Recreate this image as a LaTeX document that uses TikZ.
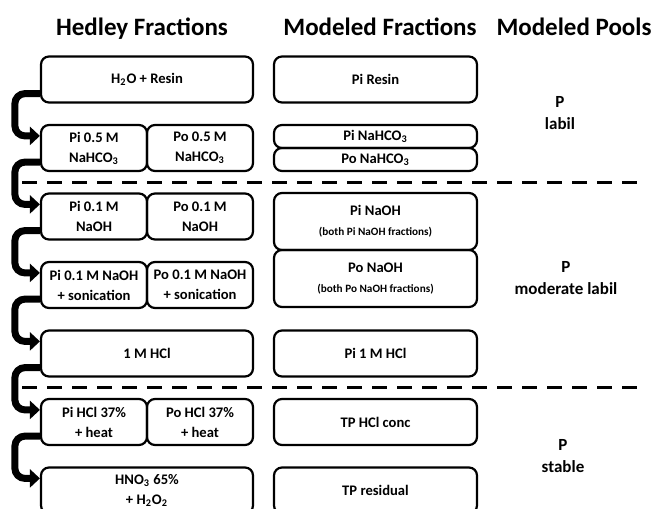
\documentclass[tikz,border=0pt]{standalone}
\usepackage{fontspec}
\setmainfont{Carlito}
\usepackage{tikz}
\usetikzlibrary{arrows.meta}
\tikzset{
    hbox/.style={
        rectangle,
        rounded corners=4pt,
        draw=black,
        line width=1.1pt,
        inner sep=0pt,
        align=center,
        minimum width=106pt,
        minimum height=23pt,
        font=\fontsize{7.3}{10}\selectfont\bfseries
    },
    half/.style={
        hbox,
        minimum width=53pt
    },
    mbox/.style={
        hbox,
        minimum width=101.5pt
    },
    arrow/.style={
        -{Triangle[length=5pt,width=9pt]},
        line width=3.5pt,
        rounded corners=5pt
    },
    sep/.style={
        line width=1.5pt,
        dash pattern=on 7.5pt off 5pt
    },
    title/.style={
        anchor=base,
        font=\fontsize{12.5}{15}\selectfont\bfseries
    },
    pool/.style={
        align=center,
        font=\fontsize{8.5}{11}\selectfont\bfseries
    }
}
\newcommand{\note}[1]{{\fontsize{5.6}{9}\selectfont #1}}

\begin{document}
\begin{tikzpicture}[x=0.5pt,y=-0.5pt]
          \useasboundingbox (0,0) rectangle (656,508);
          \clip (0,0) rectangle (656,508);
          % headings
          \node (t1) [title] at (142,36) {Hedley Fractions};
          \node (t2) [title] at (380,36) {Modeled Fractions};
          \node (t3) [title] at (574,36) {Modeled Pools};
          % Hedley fractions
          \node (h1) [hbox] at (147,79.5) {H\textsubscript{2}O + Resin};
          \node (h2i) [half] at (94,148) {Pi 0.5 M\\NaHCO\textsubscript{3}};
          \node (h2o) [half] at (200,148) {Po 0.5 M\\NaHCO\textsubscript{3}};
          \node (h3i) [half] at (94,216.5) {Pi 0.1 M\\NaOH};
          \node (h3o) [half] at (200,216.5) {Po 0.1 M\\NaOH};
          \node (h4i) [half] at (94,285) {Pi 0.1 M NaOH\\+ sonication};
          \node (h4o) [half] at (200,285) {Po 0.1 M NaOH\\+ sonication};
          \node (h5) [hbox] at (147,353.5) {1 M HCl};
          \node (h6i) [half] at (94,422) {Pi HCl 37\%\\+ heat};
          \node (h6o) [half] at (200,422) {Po HCl 37\%\\+ heat};
          \node (h7) [hbox] at (147,490.5) {HNO\textsubscript{3} 65\%\\+ H\textsubscript{2}O\textsubscript{2}};
          % modeled fractions
          \node (m1) [mbox] at (375.5,79.5) {Pi Resin};
          \node (m2i) [mbox, minimum height=11.5pt] at (375.5,136.5) {Pi NaHCO\textsubscript{3}};
          \node (m2o) [mbox, minimum height=11.5pt] at (375.5,159.5) {Po NaHCO\textsubscript{3}};
          \node (m3i) [mbox, minimum height=28.5pt] at (375.5,221.5) {Pi NaOH\\\note{(both Pi NaOH fractions)}};
          \node (m3o) [mbox, minimum height=28.5pt] at (375.5,278.5) {Po NaOH\\\note{(both Po NaOH fractions)}};
          \node (m5) [mbox] at (375.5,353.5) {Pi 1 M HCl};
          \node (m6) [mbox] at (375.5,422) {TP HCl conc};
          \node (m7) [mbox] at (375.5,490.5) {TP residual};
          % modeled pools
          \node (p1) [pool] at (560,113) {P\\labil};
          \node (p2) [pool] at (566,278) {P\\moderate labil};
          \node (p3) [pool] at (563,456) {P\\stable};
          % separators
          \draw [sep] (22,182) -- (638,182);
          \draw [sep] (22,387) -- (638,387);
          % extraction sequence
          \draw [arrow] ([yshift=5pt]h1.south west) -- ++(-12.5pt,0) |- ([yshift=-6pt]h2i.north west);
          \draw [arrow] ([yshift=5pt]h2i.south west) -- ++(-12.5pt,0) |- ([yshift=-6pt]h3i.north west);
          \draw [arrow] ([yshift=5pt]h3i.south west) -- ++(-12.5pt,0) |- ([yshift=-6pt]h4i.north west);
          \draw [arrow] ([yshift=5pt]h4i.south west) -- ++(-12.5pt,0) |- ([yshift=-6pt]h5.north west);
          \draw [arrow] ([yshift=5pt]h5.south west) -- ++(-12.5pt,0) |- ([yshift=-6pt]h6i.north west);
          \draw [arrow] ([yshift=5pt]h6i.south west) -- ++(-12.5pt,0) |- ([yshift=-6pt]h7.north west);
\end{tikzpicture}
\end{document}
